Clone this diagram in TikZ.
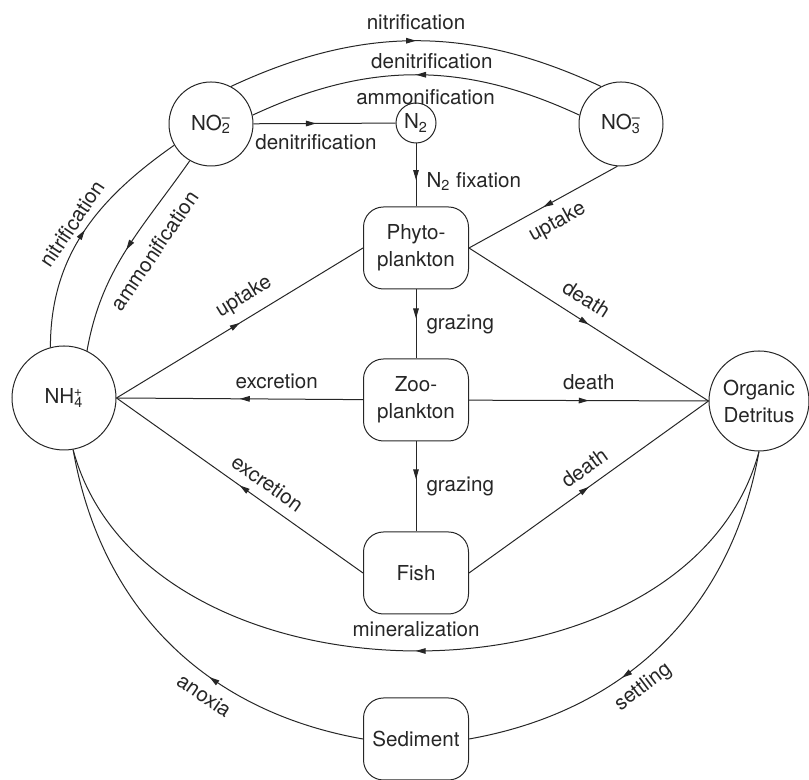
\documentclass[tikz,border=0pt]{standalone}
\usepackage{fontspec}
\setmainfont{TeX Gyre Heros}
\usepackage{tikz}
\usetikzlibrary{arrows.meta,decorations.markings,positioning}
\tikzset{CYCLE style/.style={x=0.5pt,y=0.5pt,every node/.style={font=\fontsize{10.3}{13.5}\selectfont,text=black!85}}}
\tikzset{pool/.style={circle,draw=black!85,line width=0.5pt,inner sep=0pt,align=center},
  box/.style={draw=black!85,line width=0.5pt,rounded corners=10pt,minimum width=52.5pt,minimum height=41pt,inner sep=1pt,align=center},
  flow/.style={draw=black!85,line width=0.5pt,postaction={decorate},decoration={markings,mark=at position #1 with {\arrow{Triangle[length=5pt,width=2.8pt]}}}},
  flow/.default=0.5,
  lbl/.style={inner sep=5pt}}
\newcommand{\chemion}[3]{#1\textsubscript{#2}\llap{\textsuperscript{#3}}}

\begin{document}
\begin{tikzpicture}[CYCLE style]
	\useasboundingbox (0,0) rectangle (809,780);
	
	\node[pool,minimum size=42pt] (no2) at (211,656) {\chemion{NO}{2}{--}};
	\node[pool,minimum size=20pt] (n2) at (416,657) {N\textsubscript{2}};
	\node[pool,minimum size=42pt] (no3) at (621,656) {\chemion{NO}{3}{--}};
	\node[pool,minimum size=52pt] (nh4) at (64,382) {\chemion{NH}{4}{+}};
	\node[pool,minimum size=50pt] (det) at (759,379) {Organic\\Detritus};
	
	\node[box,node distance=62.5pt,below of=n2] (phyto) {Phyto-\\plankton};
	\node[box,node distance=76pt,below of=phyto] (zoo) {Zoo-\\plankton};
	\node[box,node distance=86.5pt,below of=zoo] (fish) {Fish};
	\node[box,node distance=83pt,below of=fish] (sed) {Sediment};
	
	% nitrogen pools
	\path
	(no2.62) edge[flow,out=25,in=155] node[lbl,above] {nitrification} (no3.118)
	(no3.168) edge[flow,out=155,in=25] node[lbl,above=-2pt,pos=0.45] {denitrification}
		node[lbl,below=2pt,pos=0.47] {ammonification} (no2.12)
	(no2) edge[flow=0.44] node[lbl,below,pos=0.44] {denitrification} (n2)
	(nh4.105) edge[flow,out=90,in=215] node[lbl,above=-2pt,sloped] {nitrification} (no2.210)
	(no2.240) edge[flow,out=235,in=80] node[lbl,below=3pt,sloped,pos=0.42] {ammonification} (nh4.64)
	;
	% food web
	\path
	(n2) edge[flow=0.58] node[lbl,right,pos=0.6] {N\textsubscript{2} fixation} (phyto)
	(no3.265) edge[flow] node[lbl,below,sloped,pos=0.47] {uptake} (phyto.east)
	(nh4.east) edge[flow] node[lbl,above,sloped,pos=0.56] {uptake} (phyto.west)
	(phyto) edge[flow=0.42] node[lbl,right] {grazing} (zoo)
	(phyto.east) edge[flow] node[lbl,above=1pt,sloped,pos=0.445] {death} (det.west)
	(zoo) edge[flow] node[lbl,above,pos=0.35] {excretion} (nh4.east)
	(zoo) edge[flow] node[lbl,above] {death} (det.west)
	(zoo) edge[flow=0.42] node[lbl,right] {grazing} (fish)
	(fish.west) edge[flow] node[lbl,above,sloped,pos=0.43] {excretion} (nh4.east)
	(fish.east) edge[flow] node[lbl,above,sloped,pos=0.525] {death} (det.west)
	;
	% detritus and sediment
	\path
	(det.south) edge[flow,out=255,in=285,looseness=1.03] node[lbl,above=2pt] {mineralization} (nh4.-80)
	(det.south) edge[flow=0.62,out=260,in=10] node[lbl,below,sloped,pos=0.6] {settling} (sed.east)
	(sed.west) edge[flow=0.38,out=170,in=280] node[lbl,below,sloped,pos=0.36] {anoxia} (nh4.-80)
	;
\end{tikzpicture}
\end{document}
